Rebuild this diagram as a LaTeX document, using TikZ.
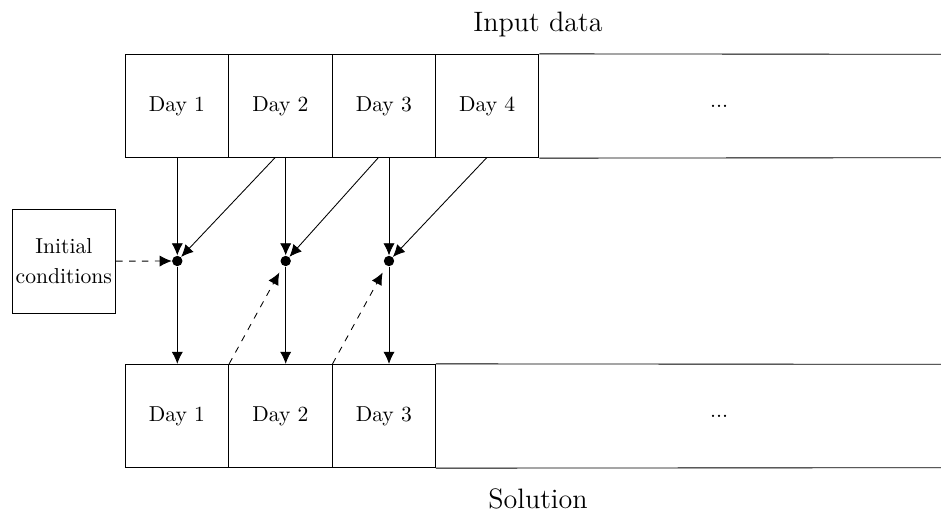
\documentclass[tikz,border=0pt]{standalone}
\usetikzlibrary{arrows.meta,calc}
\begin{document}
\begin{tikzpicture}[x=0.463pt,y=-0.463pt,
  cell/.style={draw,minimum width=47.87pt,minimum height=47.87pt,inner sep=0pt,font=\fontsize{10}{12}\selectfont},
  dotnode/.style={circle,fill,inner sep=0pt,minimum size=4.8pt},
  flow/.style={-{Latex[length=5.6pt,width=5.2pt]}},
  feed/.style={flow,dashed},
  caption/.style={anchor=base,font=\fontsize{13}{15.6}\selectfont},
  ellip/.style={font=\fontsize{10}{12}\selectfont}]
\useasboundingbox (0,0) rectangle (941,513);

% input data row
\node[cell] (t1) at (177,106) {Day 1};
\node[cell] (t2) at (280.4,106) {Day 2};
\node[cell] (t3) at (383.8,106) {Day 3};
\node[cell] (t4) at (487.2,106) {Day 4};
\coordinate (tne) at (941,54.3);
\coordinate (tse) at (941,157.7);
\draw (t4.north east) -- (tne);
\draw (t4.south east) -- (tse);
\node[ellip] (tdots) at (719,106) {...};
\node[caption] (inp) at (538,31.7) {Input data};

% solution row
\node[cell] (b1) at (177,416) {Day 1};
\node[cell] (b2) at (280.4,416) {Day 2};
\node[cell] (b3) at (383.8,416) {Day 3};
\coordinate (bne) at (941,364.3);
\coordinate (bse) at (941,467.7);
\draw (b3.north east) -- (bne);
\draw (b3.south east) -- (bse);
\node[ellip] (bdots) at (719,416) {...};
\node[caption] (sol) at (538,508.3) {Solution};

% initial conditions
\node[draw,minimum width=48pt,minimum height=48pt,inner sep=0pt,align=center,
  font=\fontsize{10}{13.9}\selectfont] (init) at (63.8,261.3) {Initial\\conditions};

% junction dots
\node[dotnode] (d1) at (177.3,261) {};
\node[dotnode] (d2) at (285.7,261) {};
\node[dotnode] (d3) at (389,261) {};

% start points of the slanted inputs
\coordinate (s2) at (275,157.7);
\coordinate (s3) at (378.3,157.7);
\coordinate (s4) at (486.7,157.7);

% vertical inputs
\draw[flow] (t1.south -| d1) -- (d1);
\draw[flow] (t2.south -| d2) -- (d2);
\draw[flow] (t3.south -| d3) -- (d3);

% slanted inputs
\draw[flow] (s2) -- (d1);
\draw[flow] (s3) -- (d2);
\draw[flow] (s4) -- (d3);

% outputs
\draw[flow] (d1) -- (b1.north -| d1);
\draw[flow] (d2) -- (b2.north -| d2);
\draw[flow] (d3) -- (b3.north -| d3);

% initial state and carried-over states
\draw[feed] (init) -- (d1);
\draw[feed,shorten >=3.5pt] (b1.north east) -- (d2);
\draw[feed,shorten >=3.5pt] (b2.north east) -- (d3);
\end{tikzpicture}
\end{document}
